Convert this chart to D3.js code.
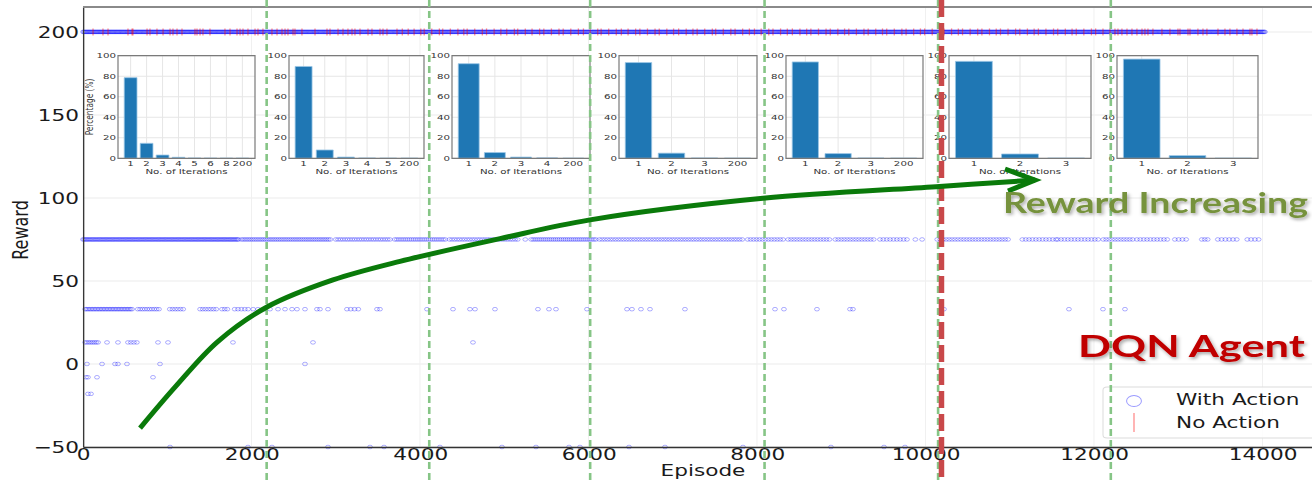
<!DOCTYPE html>
<html>
<head>
<meta charset="utf-8">
<script src="https://cdn.jsdelivr.net/npm/d3@7"></script>
<style>
  html, body { margin: 0; padding: 0; background: #fff; overflow: hidden; }
  svg { display: block; }
</style>
</head>
<body>
<svg id="chart"></svg>
<script>
// ---------------- data ----------------
const episodeTicks = [0, 2000, 4000, 6000, 8000, 10000, 12000, 14000];
const rewardTicks = [-50, 0, 50, 100, 150, 200];

// Reward levels reached by the agent ("With Action" episodes)
const rowLevels = [200, 75, 33, 13, 0, -8, -18, -50];

// dense stretches of episodes: [firstEpisode, lastEpisode, spacing]
const runs200 = [[0, 14030, 10]];
const runs75 = [[0, 1860, 14], [1880, 2950, 22], [3000, 3650, 28], [3700, 4300, 25], [4350, 5140, 30],
  [5320, 6100, 24], [6130, 7830, 32], [7890, 8320, 35], [8370, 8870, 35], [8930, 9400, 35],
  [9460, 9800, 40], [10140, 11010, 35], [11150, 11550, 40], [11570, 12050, 40], [12110, 12460, 35],
  [12510, 12900, 40], [12960, 13120, 45], [13280, 13350, 35], [13470, 13700, 45], [13820, 13970, 45]];
const runs33 = [[25, 590, 18], [650, 910, 28], [1030, 1190, 32], [1390, 1590, 32], [1650, 1745, 32],
  [1800, 1960, 40], [3133, 3312, 45]];
const runs13 = [[25, 200, 22], [534, 641, 35]];

// isolated episodes
const points75 = [5160, 5250, 9880, 9960];
const points33 = [2020, 2077, 2160, 2220, 2315, 2398, 2481, 2540, 2635, 2777, 2813, 2908, 3490, 3525,
  4083, 4392, 4593, 4653, 4890, 5400, 5531, 5614, 5982, 6457, 6516, 6623, 6730, 7145, 8214, 8320,
  8712, 9104, 9139, 10220, 11703, 12107, 12368];
const points13 = [285, 415, 890, 1009, 1780, 2730, 4629];
const points0 = [47, 226, 380, 415, 522, 914, 2635];
const pointsM8 = [36, 59, 166, 831];
const pointsM18 = [59, 95];
const pointsM50 = [1033, 1958, 2243, 2908, 3407, 3573, 4237, 4973, 5377, 5769, 5899, 6481, 6908,
  7834, 8878, 9508, 9757];

const rowRuns = [runs200, runs75, runs33, runs13, [], [], [], []];
const rowPoints = [[], points75, points33, points13, points0, pointsM8, pointsM18, pointsM50];

// "No Action" episodes (all reach reward 200)
const noActionEpisodes = [119, 237, 297, 534, 582, 593, 760, 795, 878, 950, 1033, 1068, 1116, 1175,
  1329, 1353, 1389, 1424, 1507, 1685, 1745, 1828, 1864, 1899, 1958, 2042, 2077, 2136, 2243, 2303,
  2362, 2398, 2433, 2493, 2516, 2599, 2754, 2896, 2932, 3027, 3086, 3145, 3193, 3228, 3288, 3383,
  3430, 3525, 3561, 3608, 3727, 3790, 3860, 3930, 4010, 4050, 4140, 4230, 4270, 4360, 4450, 4520,
  4560, 4650, 4740, 4790, 4880, 4960, 5030, 5120, 5160, 5250, 5330, 5420, 5470, 5560, 5650, 5700,
  5790, 5880, 5940, 6020, 6110, 6150, 6240, 6330, 6390, 6470, 6560, 6610, 6700, 6790, 6840, 6930,
  7010, 7070, 7160, 7240, 7290, 7380, 7470, 7510, 7600, 7690, 7740, 7830, 7910, 7970, 8050, 8140,
  8190, 8280, 8360, 8420, 8510, 8590, 8640, 8730, 8820, 8870, 8960, 9040, 9090, 9180, 9270, 9320,
  9410, 9490, 9540, 9630, 9720, 9770, 9860, 9940, 9990, 10080, 10170, 10220, 10310, 10390, 10440,
  10530, 10620, 10670, 10760, 10840, 10890, 10980, 11070, 11120, 11210, 11290, 11340, 11430, 11520,
  11570, 11660, 11740, 11790, 11880, 11970, 12020, 12107, 12190, 12249, 12285, 12332, 12392, 12451,
  12510, 12570, 12605, 12641, 12700, 12807, 12902, 12997, 13021, 13116, 13140, 13234, 13294, 13341,
  13472, 13555, 13614, 13697, 13769, 13852, 13875, 13935];

// training stage boundaries and the switch episode
const stageEpisodes = [2180, 4110, 6020, 8090, 10150, 12200];
const switchEpisode = 10190;

// trend arrow (episode, reward)
const trendEpisodes = [677, 1100, 1600, 2184, 2967, 3763, 4950, 6018, 8071, 10125, 11300];
const trendRewards = [-38.6, -13.5, 13.5, 34.3, 50.6, 61.8, 75.5, 86.8, 99.8, 106.8, 110.8];

// iteration histograms for each stage
const iterLabels = [
  ["1", "2", "3", "4", "5", "6", "8", "200"],
  ["1", "2", "3", "4", "5", "200"],
  ["1", "2", "3", "4", "200"],
  ["1", "2", "3", "200"],
  ["1", "2", "3", "200"],
  ["1", "2", "3"],
  ["1", "2", "3"]
];
const iterPercents = [
  [78.6, 14.6, 3.2, 1.0, 0.3, 0.2, 0.1, 0.1],
  [89.5, 8.1, 1.2, 0.3, 0.1, 0.1],
  [92.2, 5.6, 1.2, 0.4, 0.1],
  [93.3, 5.0, 0.3, 0.1],
  [93.9, 4.6, 0.3, 0.1],
  [94.5, 4.2, 0.2],
  [96.7, 2.6, 0.1]
];
const percentTicks = [0, 20, 40, 60, 80, 100];

// ---------------- layout ----------------
const W = 1312, H = 482;
const SX = 1.35;                 // the figure is drawn wider than tall by this factor
const VW = W / SX;
const vx = p => p / SX;          // screen x (px) -> view units

const svg = d3.select("#chart")
  .attr("width", W).attr("height", H)
  .attr("viewBox", `0 0 ${VW} ${H}`)
  .attr("preserveAspectRatio", "none");

const defs = svg.append("defs");
const shadow = defs.append("filter").attr("id", "shadow")
  .attr("x", "-10%").attr("y", "-30%").attr("width", "120%").attr("height", "160%");
shadow.append("feDropShadow").attr("dx", 1.2).attr("dy", 2).attr("stdDeviation", 1.4)
  .attr("flood-color", "#000").attr("flood-opacity", 0.35);

const FONT = "DejaVu Sans, Verdana, sans-serif";
const NS = "non-scaling-stroke";

svg.append("rect").attr("width", VW).attr("height", H).attr("fill", "#fff");

const x = d3.scaleLinear().domain([0, 14600]).range([vx(83), vx(1313)]);
const y = d3.scaleLinear().domain([-50, 215]).range([447, 7]);

// grid
const grid = svg.append("g");
grid.selectAll(".gy").data(rewardTicks).join("line")
  .attr("x1", x.range()[0]).attr("x2", x.range()[1])
  .attr("y1", d => y(d)).attr("y2", d => y(d))
  .attr("stroke", "#ececec").attr("stroke-width", 1).attr("vector-effect", NS);
grid.selectAll(".gx").data(episodeTicks).join("line")
  .attr("x1", d => x(d)).attr("x2", d => x(d))
  .attr("y1", y.range()[0]).attr("y2", y.range()[1])
  .attr("stroke", "#f0f0f0").attr("stroke-width", 1).attr("vector-effect", NS);

// "With Action" scatter
const withAction = [];
rowLevels.forEach((r, i) => {
  rowRuns[i].forEach(([a, b, step]) => {
    for (let e = a; e <= b; e += step) withAction.push([e, r]);
  });
  rowPoints[i].forEach(e => withAction.push([e, r]));
});
svg.append("g").selectAll("circle").data(withAction).join("circle")
  .attr("cx", d => x(d[0])).attr("cy", d => y(d[1])).attr("r", 1.8)
  .attr("fill", "none").attr("stroke", "#0000ff").attr("stroke-opacity", 0.4)
  .attr("stroke-width", 0.8).attr("vector-effect", NS);

// "No Action" markers
svg.append("g").selectAll("line").data(noActionEpisodes).join("line")
  .attr("x1", d => x(d)).attr("x2", d => x(d))
  .attr("y1", y(200) - 3.5).attr("y2", y(200) + 3.5)
  .attr("stroke", "#ff0000").attr("stroke-opacity", 0.45).attr("stroke-width", 1.3)
  .attr("vector-effect", NS);

// axes
const yAxis = svg.append("g").attr("transform", `translate(${x.range()[0]},0)`)
  .call(d3.axisLeft(y).tickValues(rewardTicks).tickFormat(d3.format("d"))
    .tickSize(0).tickSizeOuter(0).tickPadding(vx(4)));
const xAxis = svg.append("g").attr("transform", `translate(0,${y.range()[0]})`)
  .call(d3.axisBottom(x).tickValues(episodeTicks).tickFormat(d3.format("d"))
    .tickSize(0).tickSizeOuter(0).tickPadding(1.5));
[yAxis, xAxis].forEach(g => {
  g.attr("font-family", FONT).attr("font-size", 16);
  g.selectAll("text").attr("fill", "#1a1a1a");
  g.select(".domain").attr("stroke", "#333").attr("stroke-width", 1.3).attr("vector-effect", NS);
});
// top spine
svg.append("line")
  .attr("x1", x.range()[0]).attr("x2", x.range()[1])
  .attr("y1", y.range()[1]).attr("y2", y.range()[1])
  .attr("stroke", "#8a8a8a").attr("stroke-width", 2).attr("vector-effect", NS);

svg.append("text").attr("x", vx(703)).attr("y", 476)
  .attr("text-anchor", "middle").attr("font-family", FONT).attr("font-size", 16)
  .attr("fill", "#1a1a1a").text("Episode");
svg.append("text").attr("transform", `translate(${vx(28)},230) rotate(-90)`)
  .attr("text-anchor", "middle").attr("font-family", FONT).attr("font-size", 16)
  .attr("fill", "#1a1a1a").text("Reward");

// legend
const lg = svg.append("g");
lg.append("rect").attr("x", vx(1103)).attr("y", 387).attr("width", vx(1330) - vx(1103)).attr("height", 51)
  .attr("rx", 3).attr("fill", "#fff").attr("fill-opacity", 0.85)
  .attr("stroke", "#dcdcdc").attr("stroke-width", 1).attr("vector-effect", NS);
lg.append("circle").attr("cx", vx(1134)).attr("cy", 401).attr("r", 5.5)
  .attr("fill", "none").attr("stroke", "#0000ff").attr("stroke-opacity", 0.4)
  .attr("stroke-width", 1).attr("vector-effect", NS);
lg.append("line").attr("x1", vx(1134)).attr("x2", vx(1134)).attr("y1", 413).attr("y2", 432)
  .attr("stroke", "#ff0000").attr("stroke-opacity", 0.45).attr("stroke-width", 1.3).attr("vector-effect", NS);
lg.selectAll("text").data(["With Action", "No Action"]).join("text")
  .attr("x", vx(1176)).attr("y", (d, i) => 405 + i * 23)
  .attr("font-family", FONT).attr("font-size", 16).attr("fill", "#1a1a1a").text(d => d);

// stage histograms
const insetBoxes = [[118, 255], [289, 424], [452, 590], [619, 757], [786, 923], [949, 1091], [1117, 1258]];
const insetTop = 55.7, insetBottom = 158.3;
insetBoxes.forEach((box, i) => {
  const labels = iterLabels[i], vals = iterPercents[i];
  const n = labels.length, m = 0.05 * (n - 1 + 0.8);
  const xs = d3.scaleLinear().domain([-0.4 - m, n - 1 + 0.4 + m]).range([vx(box[0]), vx(box[1])]);
  const ys = d3.scaleLinear().domain([0, 100]).range([insetBottom, insetTop]);
  const g = svg.append("g").attr("font-family", FONT).attr("font-size", 7.6).attr("fill", "#333");

  g.append("rect").attr("x", xs.range()[0]).attr("y", insetTop)
    .attr("width", xs.range()[1] - xs.range()[0]).attr("height", insetBottom - insetTop).attr("fill", "#fff");
  g.selectAll(".hy").data(percentTicks).join("line")
    .attr("x1", xs.range()[0]).attr("x2", xs.range()[1]).attr("y1", d => ys(d)).attr("y2", d => ys(d))
    .attr("stroke", "#e6e6e6").attr("vector-effect", NS);
  g.selectAll(".hx").data(labels).join("line")
    .attr("x1", (d, j) => xs(j)).attr("x2", (d, j) => xs(j)).attr("y1", insetTop).attr("y2", insetBottom)
    .attr("stroke", "#e6e6e6").attr("vector-effect", NS);
  g.selectAll(".bar").data(vals).join("rect")
    .attr("x", (d, j) => xs(j - 0.4)).attr("width", xs(0.8) - xs(0))
    .attr("y", d => ys(d)).attr("height", d => ys(0) - ys(d))
    .attr("fill", "#1f77b4").attr("stroke", "#9cc7e6").attr("stroke-width", 0.8).attr("vector-effect", NS);
  g.append("rect").attr("x", xs.range()[0]).attr("y", insetTop)
    .attr("width", xs.range()[1] - xs.range()[0]).attr("height", insetBottom - insetTop)
    .attr("fill", "none").attr("stroke", "#7a7a7a").attr("stroke-width", 1.2).attr("vector-effect", NS);
  g.selectAll(".ty").data(percentTicks).join("text")
    .attr("x", vx(box[0] - 2)).attr("y", d => ys(d)).attr("dy", "0.35em")
    .attr("text-anchor", "end").text(d => d);
  g.selectAll(".tx").data(labels).join("text")
    .attr("x", (d, j) => xs(j)).attr("y", 166).attr("text-anchor", "middle").text(d => d);
  g.append("text").attr("x", (xs.range()[0] + xs.range()[1]) / 2).attr("y", 174)
    .attr("text-anchor", "middle").text("No. of Iterations");
  if (i === 0) {
    g.append("text").attr("transform", `translate(${vx(93)},107) rotate(-90)`)
      .attr("text-anchor", "middle").attr("font-size", 7.4).text("Percentage (%)");
  }
});

// stage boundaries
svg.append("g").selectAll("line").data(stageEpisodes).join("line")
  .attr("x1", d => x(d)).attr("x2", d => x(d)).attr("y1", 0).attr("y2", H)
  .attr("stroke", "#86c586").attr("stroke-width", 2.6).attr("stroke-dasharray", "7,4")
  .attr("vector-effect", NS);
svg.append("line").attr("x1", x(switchEpisode)).attr("x2", x(switchEpisode)).attr("y1", 0).attr("y2", H)
  .attr("stroke", "#c9484a").attr("stroke-width", 5.5).attr("stroke-dasharray", "17,6")
  .attr("vector-effect", NS);

// trend arrow
const trend = d3.zip(trendEpisodes, trendRewards);
svg.append("path")
  .attr("d", d3.line().x(d => x(d[0])).y(d => y(d[1])).curve(d3.curveCatmullRom.alpha(0.5))(trend))
  .attr("fill", "none").attr("stroke", "#0a7a0a").attr("stroke-width", 5)
  .attr("stroke-linecap", "butt").attr("vector-effect", NS);
const tip = trend[trend.length - 1];
const tx = x(tip[0]), ty = y(tip[1]);
svg.append("path")
  .attr("d", `M${tx - vx(30)},${ty - 11} L${tx},${ty} L${tx - vx(27)},${ty + 11}`)
  .attr("fill", "none").attr("stroke", "#0a7a0a").attr("stroke-width", 5)
  .attr("stroke-linejoin", "miter").attr("vector-effect", NS);

// captions
svg.append("text").attr("x", vx(1003)).attr("y", 213)
  .attr("font-family", "Lato, 'Open Sans', sans-serif").attr("font-weight", 700).attr("font-size", 28)
  .attr("fill", "#76923c").attr("filter", "url(#shadow)")
  .attr("textLength", vx(305)).attr("lengthAdjust", "spacingAndGlyphs")
  .text("Reward Increasing");
svg.append("text").attr("x", vx(1078)).attr("y", 357)
  .attr("font-family", "Lato, 'Open Sans', sans-serif").attr("font-weight", 700).attr("font-size", 30)
  .attr("fill", "#c00000").attr("filter", "url(#shadow)")
  .attr("textLength", vx(227)).attr("lengthAdjust", "spacingAndGlyphs")
  .text("DQN Agent");
</script>
</body>
</html>
